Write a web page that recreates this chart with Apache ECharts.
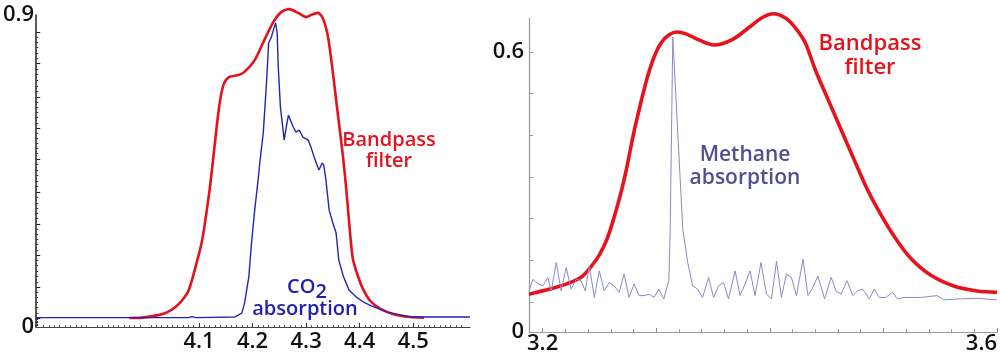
<!DOCTYPE html>
<html><head><meta charset="utf-8">
<script src="https://cdn.jsdelivr.net/npm/echarts@6/dist/echarts.min.js"></script>
<style>html,body{margin:0;padding:0;background:#fff}#c{width:1000px;height:355px}</style>
</head><body><div id="c"></div>
<script>
// ---------- data ----------
// Left panel: CO2 absorption and bandpass filter (wavelength, µm)
const leftFilterX = [3.970,3.994,4.026,4.041,4.056,4.069,4.081,4.093,4.106,4.119,4.124,4.133,4.139,4.146,4.156,4.174,4.185,4.204,4.222,4.239,4.254,4.269,4.285,4.300,4.309,4.322,4.331,4.341,4.350,4.359,4.369,4.376,4.381,4.387,4.396,4.407,4.420,4.439,4.463,4.494,4.520];
const leftFilterY = [0.026,0.027,0.035,0.043,0.058,0.078,0.107,0.170,0.251,0.386,0.450,0.577,0.650,0.700,0.721,0.727,0.736,0.770,0.828,0.880,0.909,0.917,0.906,0.894,0.900,0.906,0.891,0.836,0.733,0.617,0.490,0.380,0.290,0.199,0.150,0.107,0.075,0.052,0.037,0.029,0.027];
const leftCO2X = [3.796,4.080,4.087,4.094,4.167,4.180,4.185,4.193,4.198,4.204,4.211,4.213,4.220,4.226,4.230,4.235,4.239,4.243,4.246,4.248,4.252,4.257,4.259,4.263,4.267,4.270,4.276,4.281,4.287,4.294,4.304,4.309,4.315,4.322,4.324,4.330,4.333,4.337,4.343,4.350,4.356,4.361,4.370,4.380,4.393,4.407,4.426,4.452,4.476,4.494,4.606];
const leftCO2Y = [0.027,0.027,0.030,0.027,0.029,0.040,0.069,0.144,0.242,0.337,0.433,0.467,0.560,0.704,0.819,0.836,0.857,0.877,0.848,0.750,0.635,0.568,0.539,0.577,0.611,0.611,0.577,0.562,0.568,0.548,0.539,0.519,0.490,0.461,0.453,0.473,0.467,0.424,0.337,0.300,0.271,0.193,0.144,0.107,0.087,0.072,0.058,0.043,0.035,0.029,0.029];

// Right panel: methane absorption and bandpass filter
const rightFilterX = [3.188,3.2064,3.2212,3.2352,3.2475,3.2536,3.2589,3.2676,3.2737,3.2799,3.2860,3.2921,3.2982,3.3044,3.3114,3.3184,3.3262,3.3376,3.3507,3.3665,3.3813,3.3927,3.4032,3.4137,3.4225,3.4312,3.4400,3.4513,3.4627,3.4741,3.4846,3.4960,3.5100,3.5240,3.5415,3.5625,3.5826,3.6000];
const rightFilterY = [0.081,0.092,0.103,0.120,0.156,0.182,0.214,0.286,0.348,0.423,0.487,0.545,0.590,0.620,0.637,0.643,0.639,0.626,0.615,0.626,0.652,0.673,0.682,0.673,0.652,0.620,0.562,0.498,0.434,0.370,0.312,0.259,0.203,0.158,0.122,0.098,0.088,0.085];
const rightCH4X = [3.188,3.1915,3.1959,3.2003,3.2046,3.2076,3.2120,3.2163,3.2207,3.2251,3.2295,3.2338,3.2376,3.2411,3.2455,3.2499,3.2542,3.2586,3.2630,3.2674,3.2717,3.2761,3.2805,3.2849,3.2892,3.2936,3.2980,3.3024,3.3067,3.3111,3.3123,3.3146,3.3234,3.3277,3.3320,3.3364,3.3408,3.3461,3.3505,3.3549,3.3592,3.3636,3.3695,3.3738,3.3782,3.3826,3.3870,3.3922,3.3971,3.4015,3.4059,3.4102,3.4146,3.4190,3.4234,3.4292,3.4336,3.4380,3.4423,3.4482,3.4540,3.4584,3.4628,3.4680,3.4730,3.4773,3.4817,3.4876,3.4920,3.4963,3.5021,3.5080,3.5123,3.5182,3.5327,3.5473,3.5532,3.5677,3.5823,3.6000];
const rightCH4Y = [0.088,0.113,0.103,0.099,0.117,0.088,0.149,0.088,0.138,0.092,0.113,0.110,0.088,0.142,0.074,0.131,0.088,0.106,0.099,0.085,0.124,0.074,0.103,0.078,0.078,0.081,0.074,0.092,0.071,0.110,0.220,0.632,0.220,0.149,0.099,0.092,0.074,0.117,0.074,0.099,0.106,0.071,0.131,0.078,0.103,0.131,0.078,0.149,0.081,0.071,0.152,0.074,0.124,0.117,0.078,0.156,0.078,0.096,0.120,0.071,0.117,0.088,0.081,0.110,0.078,0.088,0.092,0.071,0.092,0.074,0.074,0.085,0.071,0.074,0.074,0.078,0.069,0.071,0.072,0.069];

// ---------- tick labels / tick positions ----------
const leftXLabels = [4.1, 4.2, 4.3, 4.4, 4.5];
const leftYLabels = [0, 0.9];
const leftYMajorTicks = [0.026, 0.115, 0.208, 0.297, 0.389, 0.485, 0.574, 0.663, 0.761, 0.851];
const rightXLabels = [3.2];
const rightXEndLabels = [3.6];
const rightXMajorTicks = [3.2, 3.3, 3.4, 3.5, 3.6];
const rightYLabels = [0, 0.6];
const rightYTicks = [0.064, 0.154, 0.243, 0.332, 0.421, 0.511, 0.6];

function subdivide(ticks, n) {
  const out = [];
  for (let i = 0; i < ticks.length - 1; i++) {
    for (let k = 1; k < n; k++) out.push(+(ticks[i] + (ticks[i + 1] - ticks[i]) * k / n).toFixed(5));
  }
  return out;
}
const leftXMinor = subdivide([3.8, 3.9, 4.0, 4.1, 4.2, 4.3, 4.4, 4.5, 4.6], 10);
const leftYMinor = subdivide([0].concat(leftYMajorTicks), 6);
const rightXMinor = subdivide(rightXMajorTicks, 5);

const zip = (xs, ys) => xs.map((x, i) => [x, ys[i]]);

const FONT = '"Open Sans", "Noto Sans", sans-serif';
const lbl = { fontFamily: FONT, fontSize: 22, fontWeight: 600, color: '#111' };

const chart = echarts.init(document.getElementById('c'), null, { renderer: 'canvas' });
chart.setOption({
  animation: false,
  backgroundColor: '#fff',
  grid: [
    { left: 33, top: 15, width: 437, height: 312 },
    { left: 529, top: 18, width: 471, height: 315 }
  ],
  xAxis: [
    { gridIndex: 0, type: 'value', min: 3.796, max: 4.606, position: 'bottom', offset: 0,
      axisLine: { onZero: false, lineStyle: { color: '#444', width: 1.2 } },
      axisTick: { inside: true, length: 4, customValues: leftXLabels, lineStyle: { color: '#333' } },
      axisLabel: Object.assign({ customValues: leftXLabels, margin: 4 }, lbl),
      splitLine: { show: false } },
    { gridIndex: 0, type: 'value', min: 3.796, max: 4.606, position: 'bottom', offset: 0,
      axisLine: { show: false, onZero: false },
      axisTick: { inside: true, length: 2, customValues: leftXMinor, lineStyle: { color: '#555' } },
      axisLabel: { show: false }, splitLine: { show: false } },
    { gridIndex: 1, type: 'value', min: 3.188, max: 3.6, position: 'bottom', offset: 0,
      axisLine: { onZero: false, lineStyle: { color: '#999', width: 1.2 } },
      axisTick: { inside: true, length: 4, customValues: rightXMajorTicks, lineStyle: { color: '#888' } },
      axisLabel: Object.assign({ customValues: rightXLabels, margin: 1 }, lbl),
      splitLine: { show: false } },
    { gridIndex: 1, type: 'value', min: 3.188, max: 3.6, position: 'bottom', offset: 0,
      axisLine: { show: false, onZero: false }, axisTick: { show: false },
      axisLabel: Object.assign({ customValues: rightXEndLabels, margin: 1, align: 'right' }, lbl),
      splitLine: { show: false } },
    { gridIndex: 1, type: 'value', min: 3.188, max: 3.6, position: 'bottom', offset: 0,
      axisLine: { show: false, onZero: false },
      axisTick: { inside: true, length: 3, customValues: rightXMinor, lineStyle: { color: '#999' } },
      axisLabel: { show: false }, splitLine: { show: false } }
  ],
  yAxis: [
    { gridIndex: 0, type: 'value', min: 0, max: 0.9, position: 'left', offset: 0,
      axisLine: { onZero: false, lineStyle: { color: '#222', width: 1.5 } },
      axisTick: { inside: true, length: 4, customValues: leftYMajorTicks, lineStyle: { color: '#222' } },
      axisLabel: Object.assign({ customValues: leftYLabels, margin: 2 }, lbl),
      splitLine: { show: false } },
    { gridIndex: 0, type: 'value', min: 0, max: 0.9, position: 'left', offset: 0,
      axisLine: { show: false, onZero: false },
      axisTick: { inside: true, length: 2, customValues: leftYMinor, lineStyle: { color: '#333' } },
      axisLabel: { show: false }, splitLine: { show: false } },
    { gridIndex: 1, type: 'value', min: 0, max: 0.673, position: 'left', offset: 0,
      axisLine: { onZero: false, lineStyle: { color: '#999', width: 1.2 } },
      axisTick: { inside: true, length: 4, customValues: rightYTicks, lineStyle: { color: '#999' } },
      axisLabel: Object.assign({ customValues: rightYLabels, margin: 5 }, lbl),
      splitLine: { show: false } }
  ],
  series: [
    { type: 'line', xAxisIndex: 0, yAxisIndex: 0, data: zip(leftFilterX, leftFilterY),
      showSymbol: false, smooth: 0.25, clip: false,
      lineStyle: { color: '#e3121c', width: 2.6 } },
    { type: 'line', xAxisIndex: 0, yAxisIndex: 0, data: zip(leftCO2X, leftCO2Y),
      showSymbol: false, clip: false,
      lineStyle: { color: '#2424b0', width: 1.4 } },
    { type: 'line', xAxisIndex: 2, yAxisIndex: 2, data: zip(rightFilterX, rightFilterY),
      showSymbol: false, smooth: 0.3, clip: false,
      lineStyle: { color: '#e8121c', width: 3.6 } },
    { type: 'line', xAxisIndex: 2, yAxisIndex: 2, data: zip(rightCH4X, rightCH4Y),
      showSymbol: false, clip: false,
      lineStyle: { color: '#8a8ac8', width: 1 } }
  ],
  graphic: [
    { type: 'text', x: 389, y: 151, style: {
        text: 'Bandpass\nfilter', textAlign: 'center', textVerticalAlign: 'middle',
        font: '600 20px ' + FONT, fill: '#e3121c', lineHeight: 21 } },
    { type: 'text', x: 307, y: 287, style: {
        text: '{a|CO}{b|2}', textAlign: 'center', textVerticalAlign: 'middle',
        rich: { a: { fontFamily: FONT, fontSize: 20, fontWeight: 600, fill: '#2020b0', color: '#2020b0' },
                b: { fontFamily: FONT, fontSize: 20, fontWeight: 600, fill: '#2020b0', color: '#2020b0', padding: [10, 0, 0, 0] } } } },
    { type: 'text', x: 305, y: 309, style: {
        text: 'absorption', textAlign: 'center', textVerticalAlign: 'middle',
        font: '600 20px ' + FONT, fill: '#2020b0' } },
    { type: 'text', x: 870, y: 56, style: {
        text: 'Bandpass\nfilter', textAlign: 'center', textVerticalAlign: 'middle',
        font: '600 22px ' + FONT, fill: '#e3121c', lineHeight: 24 } },
    { type: 'text', x: 745, y: 167, style: {
        text: 'Methane\nabsorption', textAlign: 'center', textVerticalAlign: 'middle',
        font: '600 21px ' + FONT, fill: '#50508e', lineHeight: 23 } }
  ]
});
</script>
</body></html>
